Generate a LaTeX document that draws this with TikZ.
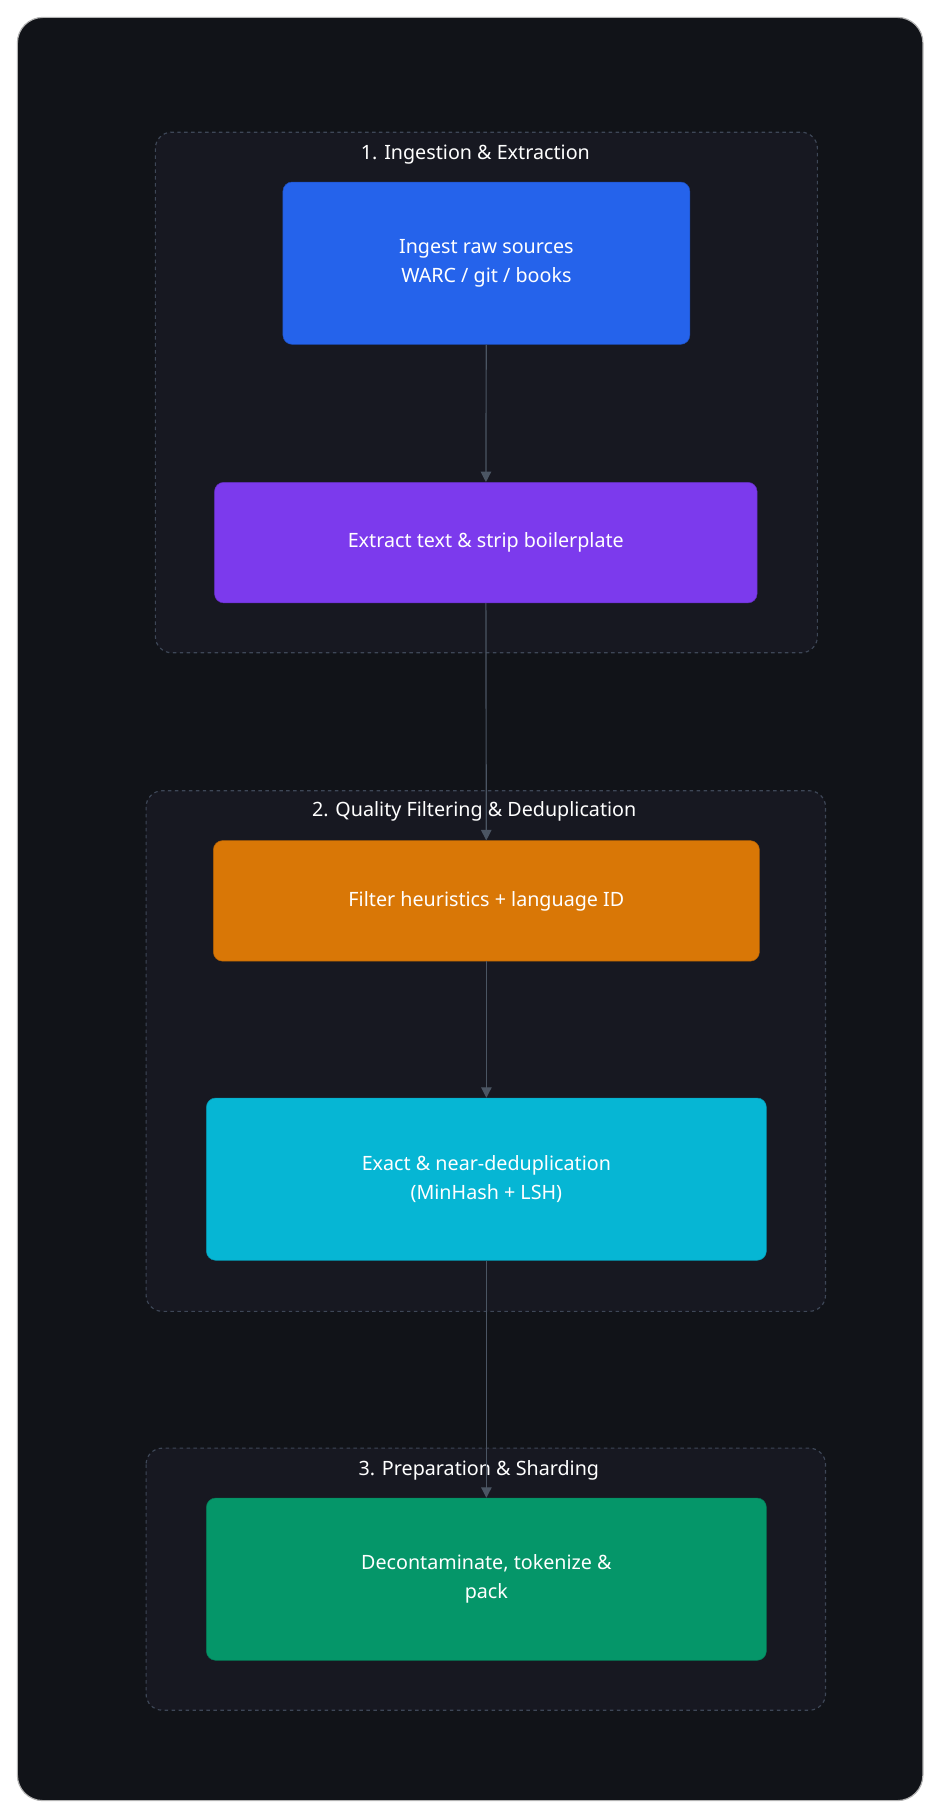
\documentclass[tikz,border=0pt]{standalone}
\usepackage{fontspec}
\setmainfont{Noto Sans}
\usetikzlibrary{arrows.meta, positioning}
\definecolor{bgdark}{HTML}{111318}
\definecolor{groupfill}{HTML}{171821}
\definecolor{groupline}{HTML}{3E4757}
\definecolor{linkgray}{HTML}{4B5563}
\definecolor{stepblue}{HTML}{2563EB}
\definecolor{steppurple}{HTML}{7C3AED}
\definecolor{steporange}{HTML}{D97706}
\definecolor{stepcyan}{HTML}{06B6D4}
\definecolor{stepgreen}{HTML}{059669}

\begin{document}
\begin{tikzpicture}[x=1pt, y=-1pt]
  \tikzstyle{group} = [draw=groupline, dashed, fill=groupfill, rounded corners=14pt, line width=1pt]
  \tikzstyle{gtitle} = [text=white, font=\bfseries\fontsize{17}{20}\selectfont]
  \tikzstyle{step} = [rectangle, rounded corners=8pt, draw=#1!80!black, fill=#1, text=white, align=center, font=\fontsize{17}{25}\selectfont]
  \tikzstyle{arrow} = [linkgray, line width=1pt, -{Triangle[length=9pt, width=9pt]}]

  \useasboundingbox (0,0) rectangle (812,1568);
  \draw[fill=bgdark, draw=gray!60, line width=1pt, rounded corners=22pt] (15,15) rectangle (796,1553);

  % groups
  \draw[group] (134,114) rectangle (705,563);
  \node[gtitle] (t1) at (410,133) {1. Ingestion \& Extraction};
  \draw[group] (126,682) rectangle (712,1131);
  \node[gtitle] (t2) at (409,700) {2. Quality Filtering \& Deduplication};
  \draw[group] (126,1249) rectangle (712,1475);
  \node[gtitle] (t3) at (413,1268) {3. Preparation \& Sharding};

  % steps
  \node[step=stepblue, minimum width=351pt, minimum height=140pt] (ingest) at (419.5,227) {Ingest raw sources\\WARC / git / books};
  \node[step=steppurple, minimum width=468pt, minimum height=104pt] (extract) at (419,468) {Extract text \& strip boilerplate};
  \node[step=steporange, minimum width=471pt, minimum height=104pt] (filter) at (419.5,777) {Filter heuristics + language ID};
  \node[step=stepcyan, minimum width=483pt, minimum height=140pt] (dedup) at (419.5,1017) {Exact \& near-deduplication\\(MinHash + LSH)};
  \node[step=stepgreen, minimum width=483pt, minimum height=140pt] (pack) at (419.5,1362) {Decontaminate, tokenize \&\\pack};

  \draw[arrow] (ingest) -- (extract);
  \draw[arrow] (extract) -- (filter);
  \draw[arrow] (filter) -- (dedup);
  \draw[arrow] (dedup) -- (pack);
\end{tikzpicture}
\end{document}
